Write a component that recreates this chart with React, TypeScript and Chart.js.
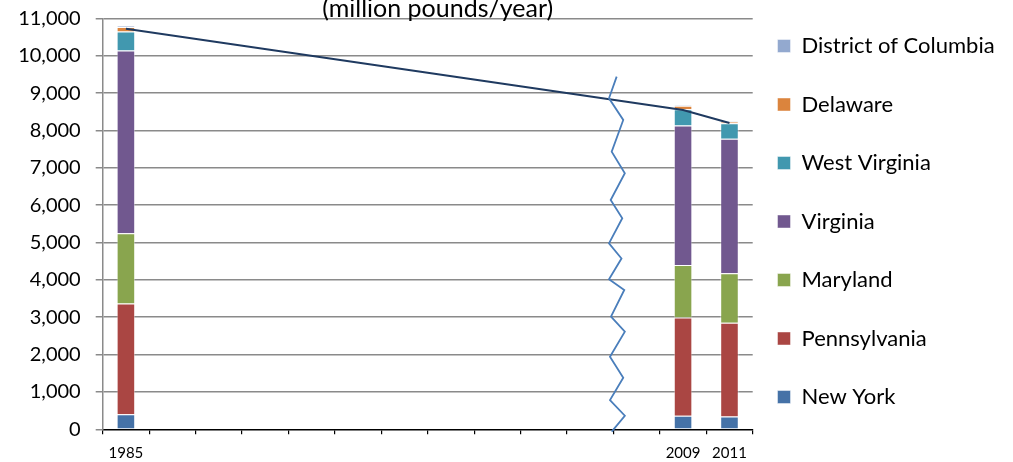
import React, { useEffect, useRef } from 'react';
import { Chart, registerables } from 'chart.js';

Chart.register(...registerables);

// ---- data ----
const categories = ['1985', '', '', '', '', '', '', '', '', '', '', '', '2009', '2011'];
const gap = [null, null, null, null, null, null, null, null, null, null, null];

const newYork = [400, ...gap, 360, 340];
const pennsylvania = [2970, ...gap, 2630, 2510];
const maryland = [1880, ...gap, 1410, 1330];
const virginia = [4890, ...gap, 3730, 3600];
const westVirginia = [510, ...gap, 440, 410];
const delaware = [120, ...gap, 90, 50];
const districtOfColumbia = [30, ...gap, 20, 20];

const trendLine = [10720, ...gap, 8550, 8200];

const yTicksMax = 11000;
const yTickStep = 1000;

// axis-break zigzag (category position, value)
const breakPos = [10.57, 10.405, 10.712, 10.463, 10.746, 10.441, 10.691, 10.405, 10.674, 10.405, 10.734, 10.448, 10.746, 10.426, 10.712, 10.426, 10.746, 10.463];
const breakVal = [9440, 8862, 8281, 7432, 6854, 6139, 5649, 4980, 4573, 4016, 3730, 3015, 2613, 1944, 1382, 784, 364, -64];

const seriesNames = ['New York', 'Pennsylvania', 'Maryland', 'Virginia', 'West Virginia', 'Delaware', 'District of Columbia'];
const seriesValues = [newYork, pennsylvania, maryland, virginia, westVirginia, delaware, districtOfColumbia];
const seriesColors = ['#4572A7', '#AA4643', '#89A54E', '#71588F', '#4198AF', '#DB843D', '#93A9CF'];

const FONT = 'Lato, "Open Sans", sans-serif';

const breakPlugin = {
  id: 'axisBreak',
  afterLayout(chart: any) {
    const lg = chart.legend;
    if (lg) {
      const w = lg.right - lg.left;
      lg.left = 741;
      lg.right = lg.left + w;
      lg.top = -9.5;
      lg.bottom = 452.5;
    }
    const t = chart.titleBlock;
    if (t) {
      t.left += 10;
      t.right += 10;
    }
  },
  afterDatasetsDraw(chart: any) {
    const { ctx, scales } = chart;
    const x = scales.x;
    const y = scales.y;
    ctx.save();
    ctx.strokeStyle = '#4A7EBB';
    ctx.lineWidth = 1.8;
    ctx.lineJoin = 'miter';
    ctx.beginPath();
    breakPos.forEach((p, i) => {
      const px = x.getPixelForValue(p);
      const py = y.getPixelForValue(breakVal[i]);
      if (i === 0) ctx.moveTo(px, py);
      else ctx.lineTo(px, py);
    });
    ctx.stroke();
    ctx.restore();
  },
};

export default function App() {
  const ref = useRef<HTMLCanvasElement | null>(null);

  useEffect(() => {
    if (!ref.current) return;
    const barSets = seriesNames.map((name, i) => ({
      type: 'bar' as const,
      label: name,
      data: seriesValues[i],
      backgroundColor: seriesColors[i],
      borderColor: 'rgba(255,255,255,0.45)',
      borderWidth: 1,
      stack: 'states',
      order: 1,
      categoryPercentage: 1,
      barPercentage: 0.4,
    }));
    const chart = new Chart(ref.current, {
      type: 'bar',
      data: {
        labels: categories,
        datasets: [
          ...barSets,
          {
            type: 'line' as const,
            label: '__trend',
            data: trendLine,
            borderColor: '#1F3A60',
            borderWidth: 2,
            pointRadius: 0,
            spanGaps: true,
            fill: false,
            stack: 'trend',
            order: 0,
          } as any,
        ],
      },
      plugins: [breakPlugin],
      options: {
        responsive: false,
        animation: false,
        layout: { padding: { left: 0, right: 0, top: 0, bottom: 0 } },
        plugins: {
          title: {
            display: true,
            text: '(million pounds/year)',
            fullSize: false,
            color: '#000',
            font: { family: FONT, size: 25, weight: 'normal', lineHeight: 0.736 },
            padding: { top: 0, bottom: 0 },
          },
          legend: {
            display: true,
            position: 'right',
            reverse: true,
            maxWidth: 260.3,
            labels: {
              filter: (item: any) => item.text !== '__trend',
              boxWidth: 13,
              boxHeight: 13,
              padding: 36.5,
              color: '#000',
              font: { family: FONT, size: 22 },
            },
          },
          tooltip: { enabled: false },
        },
        scales: {
          x: {
            stacked: true,
            offset: true,
            grid: {
              offset: true,
              drawOnChartArea: false,
              drawTicks: true,
              tickLength: 5,
              color: '#000',
              lineWidth: 1.2,
            },
            border: { color: '#000', width: 1.5 },
            ticks: {
              autoSkip: false,
              maxRotation: 0,
              minRotation: 0,
              padding: 10,
              color: '#000',
              font: { family: FONT, size: 15 },
            },
            afterFit: (s: any) => {
              s.height = 32.7;
            },
          },
          y: {
            stacked: true,
            min: 0,
            max: yTicksMax,
            grid: {
              color: (c: any) => (c.tick && c.tick.value === 0 ? 'rgba(0,0,0,0)' : '#8a8a8a'),
              tickColor: '#8a8a8a',
              lineWidth: 1.5,
              tickLength: 7,
            },
            border: { color: '#8a8a8a', width: 1.5 },
            ticks: {
              stepSize: yTickStep,
              padding: 15,
              color: '#000',
              font: { family: FONT, size: 20 },
            },
            afterFit: (s: any) => {
              s.width = 102.7;
              s.paddingTop = 10;
              s.paddingBottom = 10;
            },
          },
        },
      },
    } as any);
    return () => chart.destroy();
  }, []);

  return (
    <div style={{ position: 'fixed', left: 0, top: 0, width: 1013, height: 462, background: '#fff' }}>
      <canvas ref={ref} width={1013} height={462} style={{ display: 'block' }} />
    </div>
  );
}
